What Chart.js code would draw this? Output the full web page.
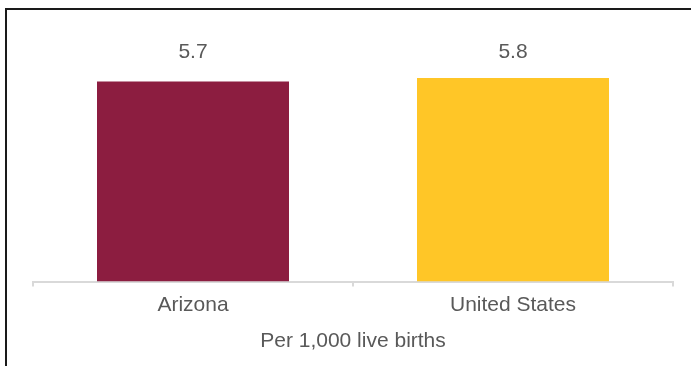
<!DOCTYPE html>
<html>
<head>
<meta charset="utf-8">
<script src="https://cdn.jsdelivr.net/npm/chart.js@4"></script>
<style>
  html, body { margin: 0; padding: 0; background: #fff; }
  .frame {
    position: absolute; left: 5px; top: 8px; right: 0; bottom: 0;
    border-top: 2px solid #1a1a1a; border-left: 2px solid #1a1a1a;
  }
  .wrap { position: absolute; left: 0; top: 0; width: 691px; height: 366px; }
</style>
</head>
<body>
<div class="frame"></div>
<div class="wrap"><canvas id="myChart" width="691" height="366"></canvas></div>
<script>
const places = ['Arizona', 'United States'];
const rates = [5.7, 5.8];
const barColors = ['#8C1D40', '#FFC627'];
const axisTitle = 'Per 1,000 live births';

const textColor = '#595959';
const fontFamily = '"Liberation Sans", Arial, sans-serif';

// writes the values on one line above the tallest bar
const valueLabels = {
  id: 'valueLabels',
  afterDatasetsDraw(chart) {
    const c = chart.ctx;
    const meta = chart.getDatasetMeta(0);
    const top = Math.min(...meta.data.map(b => b.y));
    c.save();
    c.font = '21px ' + fontFamily;
    c.fillStyle = textColor;
    c.textAlign = 'center';
    c.textBaseline = 'middle';
    meta.data.forEach((bar, i) => {
      c.fillText(rates[i].toFixed(1), bar.x, top - 26);
    });
    c.restore();
  }
};

const ctx = document.getElementById('myChart');

let myChart = new Chart(ctx, {
  type: 'bar',
  data: {
    labels: places,
    datasets: [{
      data: rates,
      backgroundColor: barColors,
      borderWidth: 0,
      barPercentage: 0.6,
      categoryPercentage: 1
    }]
  },
  options: {
    responsive: false,
    animation: false,
    layout: {
      padding: { left: 33, right: 18, top: 36, bottom: 12 }
    },
    plugins: {
      legend: { display: false },
      tooltip: { enabled: false }
    },
    scales: {
      y: {
        display: false,
        min: 0,
        max: 7
      },
      x: {
        grid: {
          drawOnChartArea: false,
          drawTicks: true,
          tickLength: 5,
          color: '#d9d9d9',
          lineWidth: 2
        },
        border: { color: '#d9d9d9', width: 2 },
        ticks: {
          color: textColor,
          padding: 6,
          font: { family: fontFamily, size: 21 }
        },
        title: {
          display: true,
          text: axisTitle,
          color: textColor,
          padding: { top: 5, bottom: 0 },
          font: { family: fontFamily, size: 21 }
        }
      }
    }
  },
  plugins: [valueLabels]
});
</script>
</body>
</html>
